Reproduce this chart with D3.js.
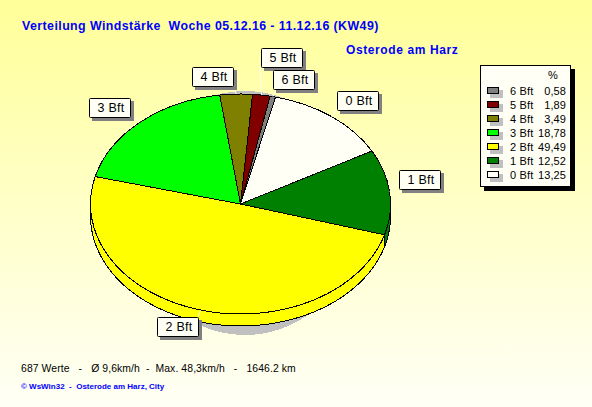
<!DOCTYPE html>
<html><head><meta charset="utf-8">
<script src="https://cdnjs.cloudflare.com/ajax/libs/d3/7.8.5/d3.min.js"></script>
<style>
html,body{margin:0;padding:0;background:#fffff0;overflow:hidden}
svg{display:block}
text{font-family:"Liberation Sans",Arial,sans-serif;white-space:pre}
</style></head><body>
<svg id="c" width="592" height="407"></svg>
<script>
// data
const categories = ["0 Bft","1 Bft","2 Bft","3 Bft","4 Bft","5 Bft","6 Bft"];
const values = [13.25,12.52,49.49,18.78,3.49,1.89,0.58];
const valueLabels = ["13,25","12,52","49,49","18,78","3,49","1,89","0,58"];
const colors = ["#fffff6","#008000","#ffff00","#00ff00","#808000","#800000","#808080"];
const titleText = "Verteilung Windstärke  Woche 05.12.16 - 11.12.16 (KW49)";
const placeText = "Osterode am Harz";
const statsText = "687 Werte   -   Ø 9,6km/h  -  Max. 48,3km/h   -   1646.2 km";
const creditText = "© WsWin32  -  Osterode am Harz, City";

// layout
const W=592,H=407,cx=240.5,cy=204,rx=150,ry=110,depth=12;
const startDeg=13.5;
const labelBoxes=[[337,91],[399,170],[157,317],[89,98],[192,67],[261,48],[273,70]];
const leaderEnds=[[337,109],[399,180],[198,317],[131,115],[234,87],[260,67],[277,89]];

const svg=d3.select("#c");
const defs=svg.append("defs");
const g=defs.append("linearGradient").attr("id","bg").attr("x1",0).attr("y1",0).attr("x2",0).attr("y2",1);
g.append("stop").attr("offset",0).attr("stop-color","#ffff99");
g.append("stop").attr("offset",1).attr("stop-color","#fffff6");
svg.append("rect").attr("width",W).attr("height",H).attr("fill","url(#bg)");

svg.append("text").attr("x",22).attr("y",30).attr("font-size",12.4).attr("letter-spacing",0.42).attr("font-weight","bold").attr("fill","#0000ff").text(titleText);
svg.append("text").attr("x",346).attr("y",54).attr("font-size",12).attr("font-weight","bold").attr("fill","#0000ff").attr("letter-spacing",0.6).text(placeText);
svg.append("text").attr("x",21).attr("y",372).attr("font-size",10.4).attr("letter-spacing",0.1).attr("fill","#000").text(statsText);
svg.append("text").attr("x",21).attr("y",389).attr("font-size",8).attr("font-weight","bold").attr("fill","#0000ff").text(creditText);

// pie
const toRad=Math.PI/180;
const start=startDeg*toRad;
const pie=d3.pie().sort(null).startAngle(start).endAngle(start+2*Math.PI).value(d=>d.v);
const slices=pie(values.map((v,i)=>({v,i})));
const arc=d3.arc().innerRadius(0).outerRadius(rx);
const pt=(a,off=0)=>[cx+rx*Math.sin(a),cy+off-ry*Math.cos(a)];

// shadow
svg.append("ellipse").attr("cx",245).attr("cy",213).attr("rx",115).attr("ry",122)
  .attr("fill","#c0c0c0").attr("shape-rendering","crispEdges");

// side walls
const line=d3.line();
const scaleAngle=d3.scaleLinear().domain([0,1]);
slices.forEach(s=>{
  const a0=Math.max(s.startAngle,Math.PI/2),a1=Math.min(s.endAngle,Math.PI*1.5);
  if(a1<=a0)return;
  const ang=scaleAngle.range([a0,a1]);
  const ts=d3.range(0,1.0001,1/80).map(ang);
  const pts=ts.map(a=>pt(a,0)).concat(ts.slice().reverse().map(a=>pt(a,depth)));
  svg.append("path").attr("d",line(pts)+"Z").attr("fill",colors[s.data.i]).attr("stroke","#000").attr("stroke-width",1).attr("shape-rendering","crispEdges");
});

// top faces
const pieG=svg.append("g").attr("transform",`translate(${cx},${cy}) scale(1,${ry/rx})`);
pieG.selectAll("path").data(slices).join("path").attr("d",arc)
  .attr("fill",d=>colors[d.data.i]).attr("stroke","#000").attr("stroke-width",1)
  .attr("vector-effect","non-scaling-stroke").attr("shape-rendering","crispEdges");

// leaders and labels
slices.forEach((s,i)=>{
  const mid=(s.startAngle+s.endAngle)/2;
  const p=pt(mid);
  svg.append("line").attr("x1",p[0]).attr("y1",p[1]).attr("x2",leaderEnds[i][0]).attr("y2",leaderEnds[i][1])
    .attr("stroke","#fffff6").attr("stroke-width",1);
});
const bw=41,bh=19;
categories.forEach((c,i)=>{
  const [x,y]=labelBoxes[i];
  svg.append("rect").attr("x",x+3).attr("y",y+3).attr("width",bw+1).attr("height",bh+1).attr("fill","#808080").attr("shape-rendering","crispEdges");
  svg.append("rect").attr("x",x+.5).attr("y",y+.5).attr("width",bw).attr("height",bh).attr("rx",1).attr("fill","#fffff6").attr("stroke","#000");
  svg.append("text").attr("x",x+bw/2+1.5).attr("y",y+14).attr("font-size",12.5).attr("letter-spacing",0.3).attr("text-anchor","middle").attr("fill","#000").text(c);
});

// legend
const lx=480,ly=65,lw=91,lh=122;
svg.append("rect").attr("x",lx+4).attr("y",ly+4).attr("width",lw).attr("height",lh).attr("fill","#000");
svg.append("rect").attr("x",lx+.5).attr("y",ly+.5).attr("width",lw-1).attr("height",lh-1).attr("fill","#fffff6").attr("stroke","#000");
svg.append("text").attr("x",553).attr("y",79).attr("font-size",11).attr("fill","#000").attr("text-anchor","middle").text("%");
const order=d3.range(categories.length).reverse();
const rowY=d3.scalePoint().domain(order).range([91,175]);
order.forEach(i=>{
  const y=rowY(i);
  svg.append("rect").attr("x",lx+10).attr("y",y-1).attr("width",13).attr("height",8).attr("fill","#c0c0c0");
  svg.append("rect").attr("x",lx+7.5).attr("y",y-3.5).attr("width",11).attr("height",6).attr("fill",colors[i]).attr("stroke","#000");
  svg.append("text").attr("x",510).attr("y",y+4).attr("font-size",11).attr("letter-spacing",0.2).attr("fill","#000").text(categories[i]);
  svg.append("text").attr("x",566).attr("y",y+4).attr("font-size",11).attr("letter-spacing",0.1).attr("fill","#000").attr("text-anchor","end").text(valueLabels[i]);
});
</script>
</body></html>
